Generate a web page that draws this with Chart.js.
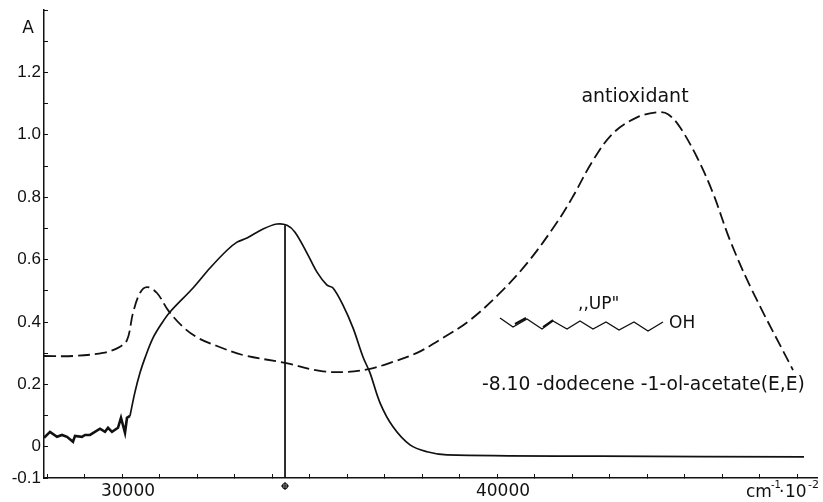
<!DOCTYPE html>
<html>
<head>
<meta charset="utf-8">
<style>
  body { margin: 0; background: #fff; }
  canvas { display: block; }
</style>
<script src="https://cdn.jsdelivr.net/npm/chart.js@4/dist/chart.umd.min.js"></script>
</head>
<body>
<canvas id="chart" width="823" height="502"></canvas>
<script>
// values
var noiseX = [27920,28080,28267,28400,28533,28693,28747,28933,29013,29147,29413,29547,29627,29733,29893,29973,30080,30133,30213];
var noiseY = [0.029,0.048,0.032,0.038,0.032,0.016,0.035,0.032,0.038,0.038,0.058,0.048,0.061,0.048,0.061,0.093,0.045,0.093,0.099];

var upX = [30213,30347,30480,30613,30827,31067,31280,31893,32347,32800,33067,33333,33760,34133,34400,34613,34933,35200,35467,35627,35893,36160,36427,36613,36880,37227,37680,38133,38667,42747,48187];
var upY = [0.099,0.176,0.237,0.285,0.349,0.397,0.432,0.509,0.573,0.630,0.656,0.669,0.698,0.714,0.710,0.688,0.621,0.560,0.518,0.509,0.454,0.381,0.288,0.237,0.141,0.064,0.006,-0.016,-0.026,-0.030,-0.032];

var antiX = [27920,28693,29493,29893,30133,30293,30480,30667,30933,31227,31627,32027,32533,33227,34347,35280,36000,36613,37147,37867,38560,39280,40080,40827,41547,42000,42560,43093,43733,44267,44560,44880,45333,45760,46213,46800,47893];
var antiY = [0.291,0.291,0.301,0.317,0.342,0.429,0.493,0.512,0.493,0.438,0.384,0.349,0.323,0.294,0.269,0.243,0.240,0.250,0.269,0.301,0.349,0.406,0.493,0.592,0.710,0.797,0.918,1.005,1.056,1.072,1.066,1.024,0.928,0.813,0.662,0.502,0.246];

var peakX = [34347,34347];
var peakY = [0.710,-0.1];

var xTicks = [28000,29000,30000,31000,32000,33000,34000,35000,36000,37000,38000,39000,40000,41000,42000,43000,44000,45000,46000,47000,48000];
var yTicks = [-0.1,0,0.1,0.2,0.3,0.4,0.5,0.6,0.7,0.8,0.9,1.0,1.1,1.2,1.3,1.4];
var xLabels = [30000,40000];
var yLabels = [-0.1,0,0.2,0.4,0.6,0.8,1.0,1.2];

var ink = "#111";
var noteFont = '"DejaVu Sans", sans-serif';
var tickFont = '"Liberation Sans", sans-serif';

function pairs(xs, ys) {
  return xs.map(function(x, i) { return {x: x, y: ys[i]}; });
}

function text(ctx, str, x, y, size, align) {
  ctx.font = size + "px " + noteFont;
  ctx.textAlign = align || "left";
  ctx.textBaseline = "middle";
  ctx.fillText(str, x, y);
}

// labels, the molecule and the small marker under the axis
var notes = {
  id: "notes",
  afterDraw: function(chart) {
    var ctx = chart.ctx;
    ctx.save();
    ctx.fillStyle = ink;
    ctx.strokeStyle = ink;

    text(ctx, "A", 28, 29, 17, "center");
    text(ctx, "antioxidant", 635, 97, 19, "center");
    text(ctx, ",,UP\"", 578, 305, 17);
    text(ctx, "OH", 669, 324, 17);
    text(ctx, "-8.10 -dodecene -1-ol-acetate(E,E)", 482, 385, 18.7);

    text(ctx, "cm", 746, 493, 17);
    text(ctx, "-1", 771, 485, 10);
    text(ctx, "\u00b7", 779, 493, 17);
    text(ctx, "10", 785, 493, 17);
    text(ctx, "-2", 808, 485, 11);

    var chain = [[500,318],[513,327],[527,319],[542,329],[553,321],[567,329],[580,321],[593,329],[606,322],[619,330],[634,322],[648,331],[663,322]];
    ctx.lineWidth = 1.4;
    ctx.beginPath();
    chain.forEach(function(p, i) {
      if (i == 0) ctx.moveTo(p[0], p[1]); else ctx.lineTo(p[0], p[1]);
    });
    ctx.stroke();
    ctx.lineWidth = 2;
    ctx.beginPath();
    ctx.moveTo(515, 324); ctx.lineTo(526, 318);
    ctx.moveTo(543, 327); ctx.lineTo(553, 320);
    ctx.stroke();

    // marker under the peak line
    var mx = chart.scales.x.getPixelForValue(peakX[0]);
    ctx.lineWidth = 1.2;
    ctx.beginPath();
    ctx.arc(mx, 486, 2.5, 0, Math.PI * 2);
    ctx.moveTo(mx - 4, 486); ctx.lineTo(mx + 4, 486);
    ctx.moveTo(mx, 482); ctx.lineTo(mx, 490);
    ctx.stroke();
    ctx.restore();
  }
};

var chart = new Chart(document.getElementById("chart"), {
  type: "line",
  plugins: [notes],
  data: {
    datasets: [
      {
        label: "UP baseline",
        data: pairs(noiseX, noiseY),
        borderColor: ink,
        borderWidth: 2.6,
        pointRadius: 0,
        tension: 0
      },
      {
        label: "UP",
        data: pairs(upX, upY),
        borderColor: ink,
        borderWidth: 1.7,
        pointRadius: 0,
        tension: 0.35
      },
      {
        label: "antioxidant",
        data: pairs(antiX, antiY),
        borderColor: ink,
        borderWidth: 1.8,
        borderDash: [12, 5],
        pointRadius: 0,
        tension: 0.35
      },
      {
        label: "peak",
        data: pairs(peakX, peakY),
        borderColor: ink,
        borderWidth: 1,
        pointRadius: 0
      }
    ]
  },
  options: {
    responsive: false,
    animation: false,
    layout: { padding: { top: 10, right: 6, left: 0, bottom: 0 } },
    plugins: { legend: { display: false }, tooltip: { enabled: false } },
    scales: {
      x: {
        type: "linear",
        min: 27920,
        max: 48533,
        afterBuildTicks: function(axis) {
          axis.ticks = xTicks.map(function(v) { return {value: v}; });
        },
        afterFit: function(axis) { axis.height = 24; },
        border: { color: ink, width: 1.5 },
        grid: { drawOnChartArea: false, tickLength: -4, color: ink, tickWidth: 1 },
        ticks: {
          autoSkip: false,
          maxRotation: 0,
          color: ink,
          padding: 7,
          labelOffset: 6,
          font: { family: noteFont, size: 17 },
          callback: function(v) { return xLabels.indexOf(v) >= 0 ? String(v) : ""; }
        }
      },
      y: {
        type: "linear",
        min: -0.1,
        max: 1.4,
        afterBuildTicks: function(axis) {
          axis.ticks = yTicks.map(function(v) { return {value: v}; });
        },
        afterFit: function(axis) {
          axis.width = 44;
          axis.paddingTop = 0;
        },
        border: { color: ink, width: 1.5 },
        grid: { drawOnChartArea: false, tickLength: -4, color: ink, tickWidth: 1 },
        ticks: {
          autoSkip: false,
          color: ink,
          padding: 7,
          font: { family: tickFont, size: 17 },
          callback: function(v) {
            if (yLabels.indexOf(v) < 0) return "";
            return v == 0 ? "0" : v.toFixed(1);
          }
        }
      }
    }
  }
});
</script>
</body>
</html>
